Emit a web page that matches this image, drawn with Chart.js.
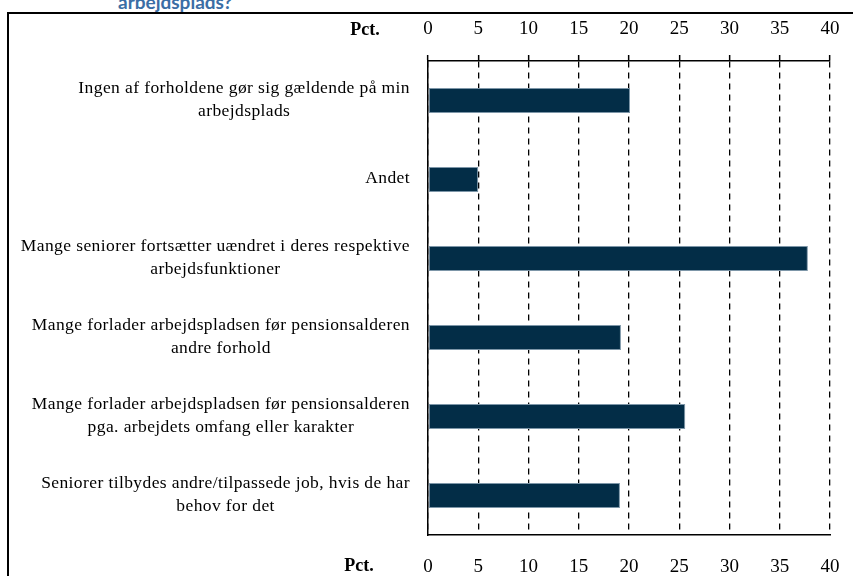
<!DOCTYPE html>
<html>
<head>
<meta charset="utf-8">
<script src="https://cdn.jsdelivr.net/npm/chart.js@4.4.0/dist/chart.umd.min.js"></script>
<style>
  html, body { margin: 0; padding: 0; background: #fff; overflow: hidden; }
  #wrap { position: relative; width: 853px; height: 576px; }
  #frame { position: absolute; left: 7px; top: 12px; width: 900px; height: 700px; border: 2px solid #000; box-sizing: border-box; }
  #title { position: absolute; left: 118px; top: -10px; font: bold 19px Lato, sans-serif; color: #3b6ea5; white-space: nowrap; }
  canvas { position: absolute; left: 0; top: 0; }
</style>
</head>
<body>
<div id="wrap">
  <div id="frame"></div>
  <div id="title">arbejdsplads?</div>
  <canvas id="myChart" width="853" height="576"></canvas>
</div>
<script>
'use strict';

// categories, top to bottom
let categories = [
  ['Ingen af forholdene gør sig gældende på min', 'arbejdsplads'],
  ['Andet'],
  ['Mange seniorer fortsætter uændret i deres respektive', 'arbejdsfunktioner'],
  ['Mange forlader arbejdspladsen før pensionsalderen', 'andre forhold'],
  ['Mange forlader arbejdspladsen før pensionsalderen', 'pga. arbejdets omfang eller karakter'],
  ['Seniorer tilbydes andre/tilpassede job, hvis de har', 'behov for det']
];
let values = [20.1, 5.0, 37.8, 19.2, 25.6, 19.1];
let axis_min = 0;
let axis_max = 40;
let axis_step = 5;
let axis_unit = 'Pct.';

let serif = '"Liberation Serif", "DejaVu Serif", serif';

// draws the wrapped category labels (lines centred in a right aligned block) and the "Pct." labels
let label_plugin = {
  id: 'labels',
  afterDraw(chart) {
    let ctx = chart.ctx;
    let ys = chart.scales.y;
    let area = chart.chartArea;
    ctx.save();
    ctx.fillStyle = '#000';
    ctx.font = '17.5px ' + serif;
    ctx.letterSpacing = '0.4px';
    ctx.textAlign = 'center';
    ctx.textBaseline = 'middle';
    let lh = 23;
    for (let i = 0; i < categories.length; i++) {
      let lines = categories[i];
      let yc = ys.getPixelForTick(i);
      let widest = 0;
      for (let l of lines) widest = Math.max(widest, ctx.measureText(l).width);
      let cx = area.left - 18 - widest / 2;
      let y0 = yc - (lines.length - 1) * lh / 2 - 1;
      for (let j = 0; j < lines.length; j++) {
        ctx.fillText(lines[j], cx, y0 + j * lh);
      }
    }
    ctx.letterSpacing = '0px';
    ctx.font = 'bold 18px ' + serif;
    ctx.fillText(axis_unit, area.left - 63, 30);
    ctx.fillText(axis_unit, area.left - 69, 566);
    ctx.restore();
  }
};

// keep the plot edges where the reference has them, no extra room for edge labels
function fixTop(s) { s.height = 61; s.paddingLeft = 0; s.paddingRight = 0; }
function fixBottom(s) { s.height = 41; s.paddingLeft = 0; s.paddingRight = 0; }

let ctx = document.getElementById('myChart').getContext('2d');
let myChart = new Chart(ctx, {
  type: 'bar',
  data: {
    labels: categories,
    datasets: [{
      data: values,
      backgroundColor: '#032d47',
      borderColor: '#7d96a8',
      borderWidth: 1,
      borderSkipped: false,
      barPercentage: 0.316,
      categoryPercentage: 1,
      xAxisID: 'x'
    }]
  },
  plugins: [label_plugin],
  options: {
    indexAxis: 'y',
    responsive: false,
    animation: false,
    events: [],
    layout: { padding: { left: 0, right: 23, top: 0, bottom: 0 } },
    plugins: { legend: { display: false }, tooltip: { enabled: false } },
    scales: {
      x: {
        position: 'top',
        min: axis_min,
        max: axis_max,
        afterFit: fixTop,
        ticks: { stepSize: axis_step, color: '#000', padding: 15, font: { family: serif, size: 19 } },
        grid: { color: '#000', lineWidth: 1.3, drawTicks: true, tickLength: 6, tickBorderDash: [], tickWidth: 1.5 },
        border: { display: true, color: '#000', width: 1.5, dash: [6, 5] }
      },
      x2: {
        position: 'bottom',
        min: axis_min,
        max: axis_max,
        afterFit: fixBottom,
        ticks: { stepSize: axis_step, color: '#000', padding: 21, font: { family: serif, size: 19 } },
        grid: { drawOnChartArea: false, drawTicks: false },
        border: { display: true, color: '#000', width: 1.5 }
      },
      y: {
        afterFit: function (s) { s.width = 428; s.paddingTop = 0; s.paddingBottom = 0; },
        ticks: { display: false },
        grid: { drawOnChartArea: false, drawTicks: false },
        border: { display: true, color: '#000', width: 1.5 }
      }
    }
  }
});
</script>
</body>
</html>
